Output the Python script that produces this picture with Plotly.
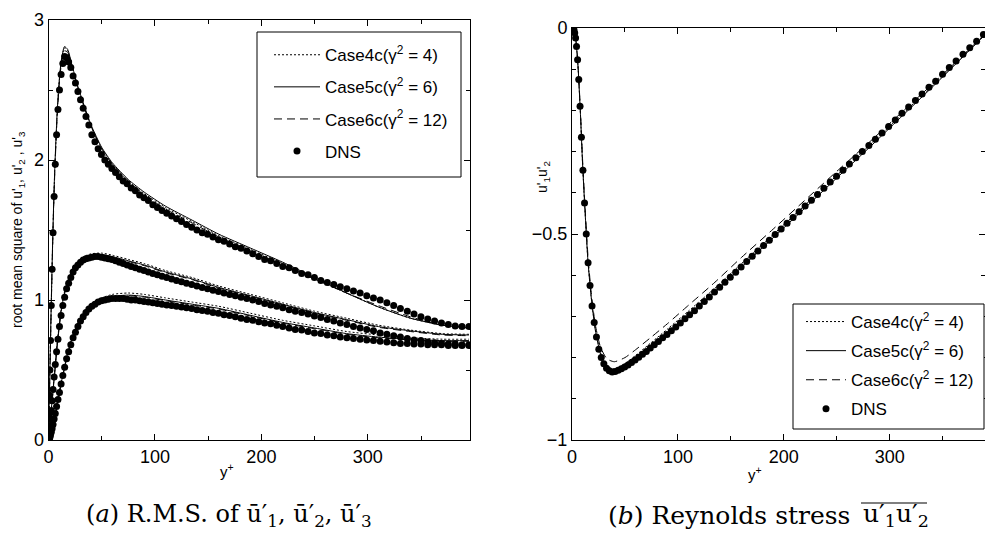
import plotly.graph_objects as go

# DNS grid points (y+) and values
DNS_YPLUS = [0.0, 0.05, 0.21, 0.48, 0.85, 1.32, 1.90, 2.59, 3.38, 4.28,
             5.28, 6.38, 7.59, 8.90, 10.32, 11.84, 13.46, 15.18, 17.01, 18.93,
             20.96, 23.09, 25.32, 27.64, 30.07, 32.59, 35.21, 37.92, 40.74, 43.64,
             46.64, 49.73, 52.92, 56.19, 59.55, 63.00, 66.57, 70.18, 73.91, 77.72,
             81.63, 85.62, 89.69, 93.83, 98.02, 102.32, 106.67, 111.09, 115.69, 120.27,
             124.95, 129.70, 134.56, 139.45, 144.42, 149.45, 154.54, 159.69, 164.94, 170.19,
             175.55, 180.93, 186.35, 191.89, 197.50, 203.07, 208.72, 214.44, 220.12, 226.11,
             231.83, 237.87, 243.84, 249.81, 255.86, 261.93, 268.05, 274.13, 280.33, 286.50,
             292.77, 299.00, 305.30, 311.60, 317.90, 324.30, 330.60, 337.10, 343.40, 349.90,
             356.30, 362.70, 369.20, 375.60, 382.10, 388.50, 395.00]

DNS_U1 = [0.0, 0.02, 0.08, 0.18, 0.32, 0.50, 0.71, 0.96, 1.22, 1.48,
          1.74, 1.97, 2.18, 2.36, 2.50, 2.61, 2.69, 2.74, 2.73, 2.70,
          2.66, 2.60, 2.55, 2.49, 2.43, 2.37, 2.31, 2.25, 2.18, 2.13,
          2.08, 2.04, 2.00, 1.97, 1.94, 1.91, 1.88, 1.85, 1.83, 1.80,
          1.78, 1.75, 1.73, 1.71, 1.68, 1.66, 1.64, 1.62, 1.60, 1.58,
          1.56, 1.54, 1.52, 1.50, 1.48, 1.47, 1.45, 1.43, 1.42, 1.40,
          1.38, 1.37, 1.35, 1.33, 1.31, 1.29, 1.28, 1.26, 1.24, 1.23,
          1.21, 1.19, 1.18, 1.16, 1.14, 1.125, 1.11, 1.095, 1.08, 1.065,
          1.05, 1.03, 1.015, 1.00, 0.98, 0.96, 0.94, 0.92, 0.90, 0.88,
          0.865, 0.85, 0.835, 0.825, 0.815, 0.81, 0.81]

DNS_U3 = [0.0, 0.003, 0.013, 0.03, 0.06, 0.10, 0.15, 0.21, 0.28, 0.36,
          0.45, 0.54, 0.63, 0.72, 0.81, 0.89, 0.96, 1.02, 1.08, 1.12,
          1.16, 1.20, 1.23, 1.25, 1.27, 1.285, 1.295, 1.30, 1.305, 1.31,
          1.31, 1.305, 1.30, 1.295, 1.29, 1.28, 1.27, 1.26, 1.25, 1.24,
          1.23, 1.22, 1.21, 1.20, 1.19, 1.18, 1.17, 1.16, 1.15, 1.14,
          1.13, 1.12, 1.11, 1.10, 1.09, 1.08, 1.07, 1.06, 1.05, 1.04,
          1.03, 1.02, 1.01, 1.00, 0.99, 0.975, 0.965, 0.955, 0.945, 0.93,
          0.92, 0.91, 0.90, 0.885, 0.875, 0.86, 0.85, 0.835, 0.825, 0.81,
          0.80, 0.79, 0.78, 0.765, 0.755, 0.745, 0.735, 0.725, 0.715, 0.71,
          0.70, 0.695, 0.69, 0.685, 0.685, 0.68, 0.68]

DNS_U2 = [0.0, 0.0, 0.001, 0.004, 0.01, 0.02, 0.035, 0.055, 0.08, 0.11,
          0.15, 0.19, 0.24, 0.29, 0.34, 0.40, 0.46, 0.52, 0.58, 0.63,
          0.68, 0.73, 0.77, 0.81, 0.85, 0.88, 0.91, 0.935, 0.955, 0.97,
          0.985, 0.995, 1.0, 1.005, 1.01, 1.01, 1.01, 1.01, 1.005, 1.0,
          1.0, 0.995, 0.99, 0.985, 0.98, 0.975, 0.97, 0.965, 0.96, 0.955,
          0.95, 0.945, 0.94, 0.93, 0.925, 0.92, 0.91, 0.905, 0.895, 0.89,
          0.88, 0.87, 0.86, 0.855, 0.845, 0.835, 0.83, 0.82, 0.81, 0.80,
          0.79, 0.785, 0.775, 0.765, 0.76, 0.75, 0.745, 0.735, 0.73, 0.725,
          0.72, 0.715, 0.71, 0.705, 0.70, 0.695, 0.69, 0.69, 0.685, 0.685,
          0.68, 0.68, 0.68, 0.675, 0.675, 0.675, 0.675]

DNS_UV = [0.0, 0.0, 0.0, -0.0005, -0.001, -0.002, -0.005, -0.012, -0.024, -0.045,
          -0.077, -0.125, -0.19, -0.265, -0.345, -0.425, -0.50, -0.57, -0.625, -0.675,
          -0.715, -0.75, -0.78, -0.80, -0.815, -0.826, -0.832, -0.835, -0.834, -0.831,
          -0.827, -0.823, -0.818, -0.812, -0.806, -0.799, -0.792, -0.785, -0.777, -0.769,
          -0.761, -0.752, -0.744, -0.735, -0.726, -0.716, -0.706, -0.696, -0.686, -0.675,
          -0.664, -0.653, -0.641, -0.629, -0.617, -0.605, -0.593, -0.580, -0.567, -0.554,
          -0.541, -0.528, -0.515, -0.501, -0.488, -0.474, -0.460, -0.446, -0.432, -0.418,
          -0.404, -0.389, -0.374, -0.360, -0.345, -0.330, -0.315, -0.300, -0.285, -0.270,
          -0.255, -0.239, -0.223, -0.207, -0.192, -0.176, -0.160, -0.144, -0.129, -0.112,
          -0.096, -0.080, -0.064, -0.048, -0.032, -0.016, 0.0]

# model results (LES cases)
LINE_YPLUS = [0, 1, 2, 3, 4, 5, 6, 8, 10, 12, 15, 18, 22, 27, 33, 40, 50, 60, 75, 90,
              110, 135, 160, 190, 220, 250, 280, 310, 340, 370, 395]

CASE4C_U1 = [0, 0.37, 0.75, 1.11, 1.44, 1.72, 1.95, 2.31, 2.55, 2.70, 2.80, 2.78, 2.67, 2.53, 2.39, 2.24,
             2.08, 1.97, 1.85, 1.76, 1.66, 1.56, 1.46, 1.36, 1.26, 1.15, 1.05, 0.95, 0.87, 0.82, 0.80]
CASE5C_U1 = [0, 0.38, 0.76, 1.12, 1.45, 1.73, 1.96, 2.32, 2.56, 2.71, 2.81, 2.79, 2.68, 2.54, 2.40, 2.25,
             2.09, 1.98, 1.86, 1.77, 1.67, 1.57, 1.47, 1.37, 1.27, 1.16, 1.05, 0.95, 0.87, 0.82, 0.80]
CASE6C_U1 = [0, 0.37, 0.74, 1.09, 1.42, 1.70, 1.93, 2.29, 2.53, 2.68, 2.78, 2.77, 2.67, 2.53, 2.39, 2.24,
             2.08, 1.97, 1.85, 1.75, 1.65, 1.55, 1.45, 1.35, 1.25, 1.15, 1.05, 0.96, 0.88, 0.82, 0.81]

CASE4C_U3 = [0, 0.08, 0.17, 0.26, 0.34, 0.43, 0.51, 0.68, 0.82, 0.94, 1.06, 1.14, 1.21, 1.27, 1.31, 1.33,
             1.335, 1.32, 1.29, 1.26, 1.21, 1.16, 1.10, 1.04, 0.98, 0.92, 0.87, 0.82, 0.785, 0.76, 0.755]
CASE5C_U3 = [0, 0.08, 0.16, 0.25, 0.33, 0.42, 0.50, 0.67, 0.81, 0.93, 1.05, 1.13, 1.20, 1.26, 1.30, 1.32,
             1.325, 1.31, 1.28, 1.25, 1.20, 1.15, 1.09, 1.03, 0.97, 0.91, 0.86, 0.81, 0.78, 0.755, 0.75]
CASE6C_U3 = [0, 0.08, 0.16, 0.24, 0.32, 0.41, 0.49, 0.66, 0.80, 0.92, 1.04, 1.12, 1.19, 1.25, 1.29, 1.31,
             1.32, 1.305, 1.275, 1.245, 1.195, 1.145, 1.085, 1.025, 0.965, 0.905, 0.855, 0.805, 0.775, 0.75, 0.745]

CASE4C_U2 = [0, 0.005, 0.02, 0.05, 0.08, 0.12, 0.16, 0.25, 0.34, 0.42, 0.53, 0.63, 0.73, 0.83, 0.91, 0.97,
             1.015, 1.04, 1.05, 1.04, 1.015, 0.985, 0.955, 0.905, 0.855, 0.815, 0.775, 0.75, 0.73, 0.72, 0.72]
CASE5C_U2 = [0, 0.005, 0.02, 0.05, 0.08, 0.12, 0.16, 0.25, 0.33, 0.41, 0.52, 0.62, 0.72, 0.82, 0.90, 0.96,
             1.00, 1.025, 1.035, 1.025, 1.00, 0.97, 0.94, 0.89, 0.84, 0.80, 0.76, 0.735, 0.72, 0.71, 0.71]
CASE6C_U2 = [0, 0.005, 0.02, 0.045, 0.075, 0.11, 0.15, 0.24, 0.32, 0.40, 0.51, 0.61, 0.71, 0.81, 0.89, 0.95,
             0.995, 1.02, 1.03, 1.02, 0.995, 0.965, 0.935, 0.885, 0.835, 0.795, 0.755, 0.73, 0.715, 0.705, 0.705]

CASE4C_UV = [0, -0.001, -0.006, -0.018, -0.038, -0.068, -0.107, -0.21, -0.33, -0.43, -0.563, -0.65, -0.73,
             -0.788, -0.82, -0.828, -0.815, -0.795, -0.763, -0.731, -0.687, -0.631, -0.572, -0.501, -0.43,
             -0.358, -0.287, -0.214, -0.141, -0.066, -0.002]
CASE5C_UV = [0, -0.001, -0.006, -0.018, -0.038, -0.068, -0.107, -0.21, -0.33, -0.43, -0.563, -0.65, -0.733,
             -0.792, -0.825, -0.832, -0.822, -0.803, -0.773, -0.742, -0.698, -0.641, -0.581, -0.509, -0.437,
             -0.364, -0.292, -0.218, -0.144, -0.068, -0.004]
CASE6C_UV = [0, -0.001, -0.006, -0.017, -0.036, -0.065, -0.103, -0.203, -0.32, -0.42, -0.55, -0.638, -0.72,
             -0.775, -0.803, -0.81, -0.80, -0.781, -0.75, -0.718, -0.673, -0.617, -0.557, -0.488, -0.418,
             -0.348, -0.279, -0.208, -0.137, -0.064, -0.002]

CASE_NAMES = ["Case4c(γ<sup>2</sup> = 4)", "Case5c(γ<sup>2</sup> = 6)", "Case6c(γ<sup>2</sup> = 12)"]
CASE_DASH = ["2px,2px", "solid", "8px,5px"]
CASE_RMS = [[CASE4C_U1, CASE4C_U3, CASE4C_U2],
            [CASE5C_U1, CASE5C_U3, CASE5C_U2],
            [CASE6C_U1, CASE6C_U3, CASE6C_U2]]
CASE_UV = [CASE4C_UV, CASE5C_UV, CASE6C_UV]

FONT = "Liberation Sans"
SERIF = "DejaVu Serif"
W, H = 985, 540

fig = go.Figure()

for i, name in enumerate(CASE_NAMES):
    for k, ys in enumerate(CASE_RMS[i]):
        fig.add_trace(go.Scatter(
            x=LINE_YPLUS, y=ys, mode="lines", name=name,
            line=dict(color="black", width=1, dash=CASE_DASH[i], shape="spline", smoothing=0.6),
            legendgroup="L%d" % i, showlegend=(k == 0), legend="legend",
            xaxis="x", yaxis="y"))
    fig.add_trace(go.Scatter(
        x=LINE_YPLUS, y=CASE_UV[i], mode="lines", name=name,
        line=dict(color="black", width=1, dash=CASE_DASH[i], shape="spline", smoothing=0.6),
        legendgroup="R%d" % i, legend="legend2",
        xaxis="x2", yaxis="y2"))

for k, ys in enumerate([DNS_U1, DNS_U3, DNS_U2]):
    fig.add_trace(go.Scatter(
        x=DNS_YPLUS, y=ys, mode="markers", name="DNS",
        marker=dict(color="black", size=7),
        legendgroup="L3", showlegend=(k == 0), legend="legend",
        xaxis="x", yaxis="y"))
fig.add_trace(go.Scatter(
    x=DNS_YPLUS, y=DNS_UV, mode="markers", name="DNS",
    marker=dict(color="black", size=7),
    legendgroup="R3", legend="legend2",
    xaxis="x2", yaxis="y2"))

axis_common = dict(showline=True, linecolor="black", linewidth=1, mirror="ticks",
                   ticks="inside", ticklen=6, tickcolor="black", showgrid=False, zeroline=False,
                   automargin=False, tickfont=dict(family=FONT, size=18, color="black"))

fig.update_layout(
    width=W, height=H,
    margin=dict(l=0, r=0, t=0, b=0, pad=0, autoexpand=False),
    paper_bgcolor="white", plot_bgcolor="white",
    font=dict(family=FONT, color="black"),
    xaxis=dict(domain=[48.5 / W, 470 / W], range=[0, 396], dtick=100,
               minor=dict(ticks="inside", dtick=50, ticklen=4, tickcolor="black"),
               anchor="y", **axis_common),
    yaxis=dict(domain=[100 / H, 520 / H], range=[0, 3], dtick=1,
               minor=dict(ticks="inside", dtick=0.5, ticklen=4, tickcolor="black"),
               anchor="x", **axis_common),
    xaxis2=dict(domain=[572 / W, 1.0], range=[0, 390], dtick=100,
                minor=dict(ticks="inside", dtick=50, ticklen=4, tickcolor="black"),
                anchor="y2", **axis_common),
    yaxis2=dict(domain=[100 / H, 512 / H], range=[-1, 0], tickvals=[-1, -0.5, 0],
                minor=dict(ticks="inside", dtick=0.1, ticklen=4, tickcolor="black"),
                anchor="x2", **axis_common),
    # legend frames are drawn as shapes below, the legends themselves are transparent
    legend=dict(x=257 / W, y=1 - 32 / H, xanchor="left", yanchor="top",
                bgcolor="rgba(0,0,0,0)", borderwidth=0, itemwidth=46, indentation=12,
                title=dict(text=" ", font=dict(size=4)),
                font=dict(family=FONT, size=17, color="black"),
                tracegroupgap=7, traceorder="grouped"),
    legend2=dict(x=793 / W, y=1 - 304 / H, xanchor="left", yanchor="top",
                 bgcolor="rgba(0,0,0,0)", borderwidth=0, itemwidth=40, indentation=8,
                 font=dict(family=FONT, size=17, color="black"),
                 tracegroupgap=4, traceorder="grouped"),
)

for x0, x1, y0, y1 in [(257, 461, 32, 177), (793, 984, 304, 429)]:
    fig.add_shape(type="rect", xref="paper", yref="paper", layer="above",
                  x0=x0 / W, x1=x1 / W, y0=1 - y1 / H, y1=1 - y0 / H,
                  fillcolor="white", line=dict(color="black", width=1))

# axis titles and captions
ann = [
    dict(text="root mean square of u'<sub>1</sub>, u'<sub>2</sub> , u'<sub>3</sub>", x=18 / W, y=1 - 230 / H,
         textangle=-90, font=dict(size=14)),
    dict(text="u'<sub>1</sub>u'<sub>2</sub>", x=543 / W, y=1 - 177 / H, textangle=-90, font=dict(size=14)),
    dict(text="y<sup>+</sup>", x=227 / W, y=1 - 470 / H, font=dict(size=15)),
    dict(text="y<sup>+</sup>", x=755 / W, y=1 - 473 / H, font=dict(size=15)),
    dict(text="(<i>a</i>) R.M.S. of ū′<sub>1</sub>, ū′<sub>2</sub>, ū′<sub>3</sub>", x=229 / W, y=1 - 515 / H,
         font=dict(family=SERIF, size=24)),
    dict(text="(<i>b</i>) Reynolds stress", x=852 / W, y=1 - 515 / H, xanchor="right",
         font=dict(family=SERIF, size=25)),
    dict(text="u′<sub>1</sub>u′<sub>2</sub>", x=861 / W, y=1 - 515 / H, xanchor="left",
         font=dict(family=SERIF, size=25)),
]
for a in ann:
    a.setdefault("xanchor", "center")
    a.update(xref="paper", yref="paper", showarrow=False, yanchor="middle")
    fig.add_annotation(**a)

# overline of the Reynolds stress caption
fig.add_shape(type="line", xref="paper", yref="paper", x0=861 / W, x1=927 / W,
              y0=1 - 503 / H, y1=1 - 503 / H, line=dict(color="black", width=1.2))

fig.write_html("out.html", config={"displayModeBar": False},
               post_script="document.body.style.margin='0';document.body.style.overflow='hidden';")
